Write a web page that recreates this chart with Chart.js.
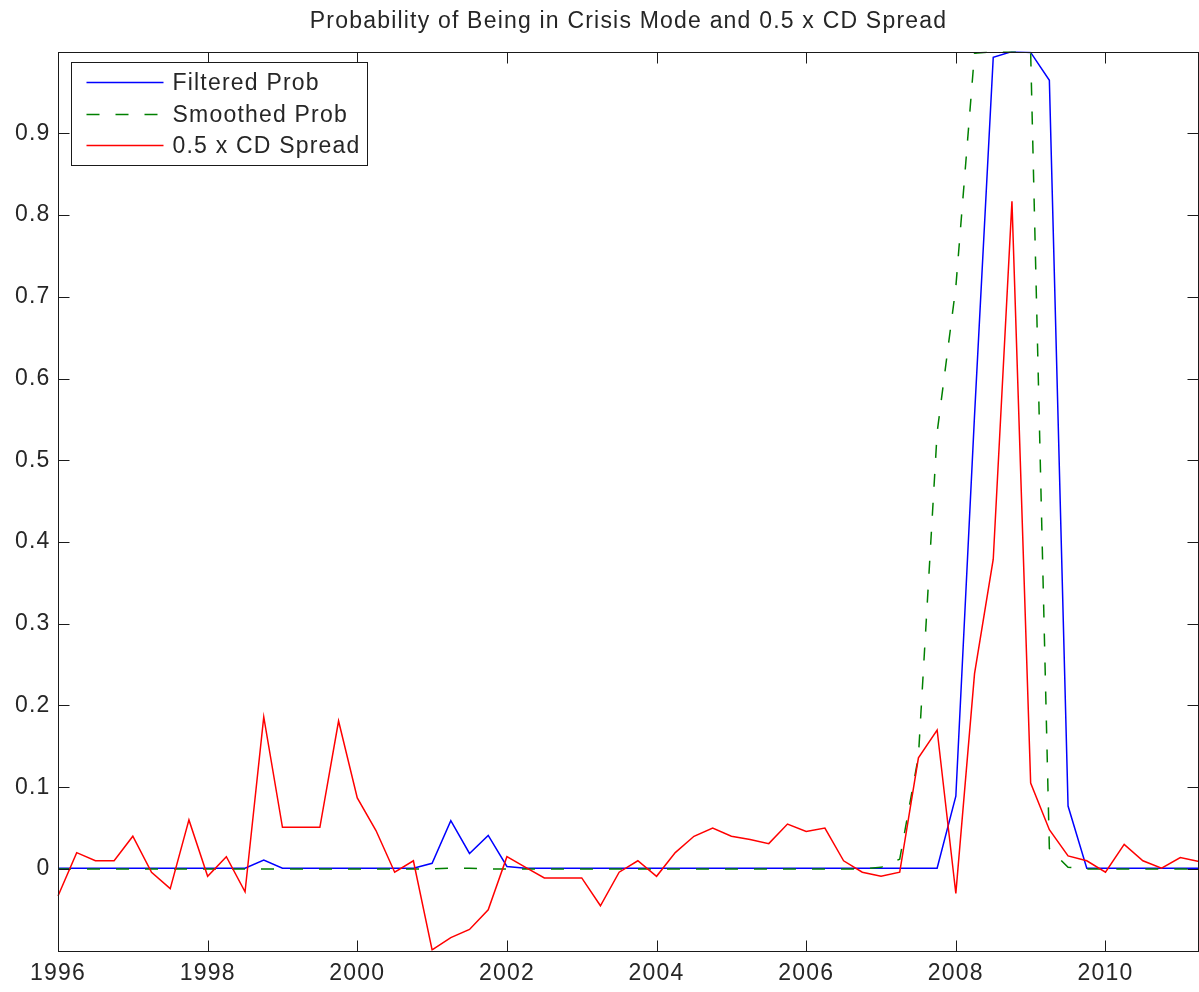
<!DOCTYPE html>
<html lang="en">
<head>
    <meta charset="UTF-8">
    <title>Probability of Being in Crisis Mode</title>
    <script src="https://cdn.jsdelivr.net/npm/chart.js"></script>
    <style>
        body { margin: 0; background: #fff; }
        #wrap { width: 1199px; height: 992px; }
    </style>
</head>
<body>
    <div id="wrap"><canvas id="crisisChart"></canvas></div>

    <script>
        // quarterly observations, 1996Q1 .. 2011Q2
        const quarters = [
            '1996Q1', '1996Q2', '1996Q3', '1996Q4',
            '1997Q1', '1997Q2', '1997Q3', '1997Q4',
            '1998Q1', '1998Q2', '1998Q3', '1998Q4',
            '1999Q1', '1999Q2', '1999Q3', '1999Q4',
            '2000Q1', '2000Q2', '2000Q3', '2000Q4',
            '2001Q1', '2001Q2', '2001Q3', '2001Q4',
            '2002Q1', '2002Q2', '2002Q3', '2002Q4',
            '2003Q1', '2003Q2', '2003Q3', '2003Q4',
            '2004Q1', '2004Q2', '2004Q3', '2004Q4',
            '2005Q1', '2005Q2', '2005Q3', '2005Q4',
            '2006Q1', '2006Q2', '2006Q3', '2006Q4',
            '2007Q1', '2007Q2', '2007Q3', '2007Q4',
            '2008Q1', '2008Q2', '2008Q3', '2008Q4',
            '2009Q1', '2009Q2', '2009Q3', '2009Q4',
            '2010Q1', '2010Q2', '2010Q3', '2010Q4',
            '2011Q1', '2011Q2'
        ];

        const filteredProb = [
            0.001, 0.001, 0.001, 0.001,
            0.001, 0.001, 0.001, 0.001,
            0.001, 0.001, 0.001, 0.011,
            0.001, 0.001, 0.001, 0.001,
            0.001, 0.001, 0.001, 0.001,
            0.007, 0.059, 0.019, 0.041,
            0.003, 0.001, 0.001, 0.001,
            0.001, 0.001, 0.001, 0.001,
            0.001, 0.001, 0.001, 0.001,
            0.001, 0.001, 0.001, 0.001,
            0.001, 0.001, 0.001, 0.001,
            0.001, 0.001, 0.001, 0.001,
            0.089, 0.555, 0.993, 1.000,
            0.999, 0.965, 0.077, 0.001,
            0.001, 0.001, 0.001, 0.001,
            0.001, 0.001
        ];

        const smoothedProb = [
            0.000, 0.000, 0.000, 0.000,
            0.000, 0.000, 0.000, 0.000,
            0.000, 0.000, 0.000, 0.000,
            0.000, 0.000, 0.000, 0.000,
            0.000, 0.000, 0.000, 0.000,
            0.000, 0.001, 0.001, 0.000,
            0.000, 0.000, 0.000, 0.000,
            0.000, 0.000, 0.000, 0.000,
            0.000, 0.000, 0.000, 0.000,
            0.000, 0.000, 0.000, 0.000,
            0.000, 0.000, 0.000, 0.000,
            0.002, 0.012, 0.138, 0.534,
            0.712, 0.998, 1.000, 1.000,
            0.999, 0.025, 0.002, 0.000,
            0.000, 0.000, 0.000, 0.000,
            0.000, 0.000
        ];

        const cdSpreadHalf = [
            -0.033, 0.020, 0.010, 0.010,
            0.040, -0.004, -0.024, 0.060,
            -0.009, 0.015, -0.028, 0.186,
            0.051, 0.051, 0.051, 0.181,
            0.087, 0.047, -0.004, 0.010,
            -0.099, -0.084, -0.074, -0.050,
            0.015, 0.002, -0.011, -0.011,
            -0.011, -0.045, -0.004, 0.010,
            -0.009, 0.020, 0.040, 0.050,
            0.040, 0.036, 0.031, 0.055,
            0.046, 0.050, 0.010, -0.004,
            -0.009, -0.004, 0.136, 0.170,
            -0.030, 0.239, 0.379, 0.817,
            0.105, 0.048, 0.016, 0.010,
            -0.004, 0.030, 0.010, 0.001,
            0.014, 0.009
        ];

        const xTickYears = ['1996', '1998', '2000', '2002', '2004', '2006', '2008', '2010'];
        const yTickLabels = ['0', '0.1', '0.2', '0.3', '0.4', '0.5', '0.6', '0.7', '0.8', '0.9'];

        const FONT = "'Liberation Sans', Arial, Helvetica, sans-serif";
        const TEXT = '#262626';
        const LS = '1.2px';
        const TICK_LEN = 11;
        const LINE_W = 1.5;

        function xLabel(q) {
            const year = q.slice(0, 4);
            return (q.endsWith('Q1') && xTickYears.includes(year)) ? year : '';
        }

        function yLabel(v) {
            const idx = Math.round(v * 10);
            return (idx >= 0 && idx < yTickLabels.length) ? yTickLabels[idx] : '';
        }

        // canvas text in the reference is a bit wider than Arial
        const spacingPlugin = {
            id: 'spacing',
            beforeLayout(chart) { chart.ctx.letterSpacing = LS; },
            beforeDraw(chart) { chart.ctx.letterSpacing = LS; }
        };

        // box around the axes, inward tick marks and legend inside the plot
        const framePlugin = {
            id: 'frame',
            afterDraw(chart) {
                const ctx = chart.ctx;
                const a = chart.chartArea;
                const xs = chart.scales.x;
                const ys = chart.scales.y;
                const left = Math.round(a.left) + 0.5;
                const right = Math.round(a.right) - 0.5;
                const top = Math.round(a.top) + 0.5;
                const bottom = Math.round(a.bottom) + 0.5;
                ctx.save();
                ctx.strokeStyle = '#1a1a1a';
                ctx.lineWidth = 1;
                ctx.setLineDash([]);
                ctx.strokeRect(left, top, right - left, bottom - top);

                ctx.beginPath();
                quarters.forEach((q, i) => {
                    if (!xLabel(q)) return;
                    const px = Math.round(xs.getPixelForValue(i)) + 0.5;
                    ctx.moveTo(px, bottom);
                    ctx.lineTo(px, bottom - TICK_LEN);
                    ctx.moveTo(px, top);
                    ctx.lineTo(px, top + TICK_LEN);
                });
                ys.ticks.forEach(t => {
                    const py = Math.round(ys.getPixelForValue(t.value)) + 0.5;
                    ctx.moveTo(left, py);
                    ctx.lineTo(left + TICK_LEN, py);
                    ctx.moveTo(right, py);
                    ctx.lineTo(right - TICK_LEN, py);
                });
                ctx.stroke();

                // legend
                const lx = left + 13, ly = top + 10, lw = 296, lh = 103;
                ctx.fillStyle = '#fff';
                ctx.fillRect(lx, ly, lw, lh);
                ctx.strokeRect(lx, ly, lw, lh);
                ctx.font = '23px ' + FONT;
                ctx.letterSpacing = LS;
                ctx.textBaseline = 'middle';
                ctx.textAlign = 'left';
                const rows = [a.top + 31, a.top + 63, a.top + 94];
                chart.data.datasets.forEach((ds, i) => {
                    const ry = rows[i];
                    ctx.strokeStyle = ds.borderColor;
                    ctx.lineWidth = LINE_W;
                    ctx.setLineDash(ds.borderDash || []);
                    ctx.beginPath();
                    ctx.moveTo(lx + 15, ry);
                    ctx.lineTo(lx + 92, ry);
                    ctx.stroke();
                    ctx.fillStyle = TEXT;
                    ctx.fillText(ds.label, lx + 101, ry + 1);
                });
                ctx.restore();
            }
        };

        const ctx = document.getElementById('crisisChart').getContext('2d');
        const crisisChart = new Chart(ctx, {
            type: 'line',
            data: {
                labels: quarters,
                datasets: [
                    {
                        label: 'Filtered Prob',
                        data: filteredProb,
                        borderColor: '#0000ff',
                        borderWidth: LINE_W,
                        order: 3
                    },
                    {
                        label: 'Smoothed Prob',
                        data: smoothedProb,
                        borderColor: '#008000',
                        borderWidth: LINE_W,
                        borderDash: [13, 16],
                        order: 2
                    },
                    {
                        label: '0.5 x CD Spread',
                        data: cdSpreadHalf,
                        borderColor: '#ff0000',
                        borderWidth: LINE_W,
                        order: 1
                    }
                ]
            },
            options: {
                responsive: true,
                maintainAspectRatio: false,
                animation: false,
                layout: { padding: { left: 0, right: 0, top: 0, bottom: 0 } },
                elements: {
                    point: { radius: 0 },
                    line: { tension: 0, fill: false }
                },
                plugins: {
                    legend: { display: false },
                    tooltip: { enabled: false },
                    title: {
                        display: true,
                        fullSize: false,
                        text: 'Probability of Being in Crisis Mode and 0.5 x CD Spread',
                        color: TEXT,
                        font: { family: FONT, size: 23, weight: 'normal' },
                        padding: { top: 8, bottom: 16 }
                    }
                },
                scales: {
                    x: {
                        type: 'category',
                        offset: false,
                        grid: { display: false, drawTicks: false },
                        border: { display: false },
                        ticks: {
                            autoSkip: false,
                            maxRotation: 0,
                            padding: 9,
                            color: TEXT,
                            font: { family: FONT, size: 23 },
                            callback: function (value) {
                                return xLabel(this.getLabelForValue(value));
                            }
                        },
                        afterFit: scale => {
                            scale.height = 41.3;
                            scale.paddingLeft = 0;
                            scale.paddingRight = 0;
                        }
                    },
                    y: {
                        min: -0.1,
                        max: 1.0,
                        grid: { display: false, drawTicks: false },
                        border: { display: false },
                        ticks: {
                            stepSize: 0.1,
                            padding: 7.5,
                            color: TEXT,
                            font: { family: FONT, size: 23 },
                            callback: value => yLabel(value)
                        },
                        afterFit: scale => {
                            scale.width = 58;
                            scale.paddingTop = 0;
                            scale.paddingBottom = 0;
                        }
                    }
                }
            },
            plugins: [spacingPlugin, framePlugin]
        });
    </script>
</body>
</html>
